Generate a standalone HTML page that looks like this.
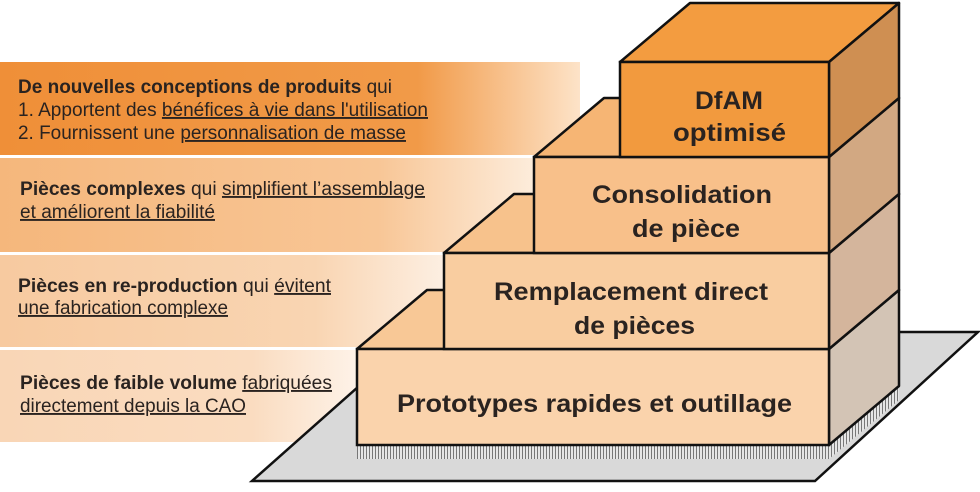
<!DOCTYPE html>
<html><head><meta charset="utf-8"><style>
body{margin:0;background:#fff;width:980px;height:487px;overflow:hidden;font-family:"Liberation Sans",Arial,sans-serif}
</style></head><body>
<svg width="980" height="487" viewBox="0 0 980 487" xmlns="http://www.w3.org/2000/svg" font-family="Liberation Sans, Arial, sans-serif">
<defs>
<linearGradient id="g1" x1="0" x2="1"><stop offset="0" stop-color="#ef8f38"/><stop offset="0.72" stop-color="#f19a48"/><stop offset="1" stop-color="#fde3c8"/></linearGradient>
<linearGradient id="g2" x1="0" x2="1"><stop offset="0" stop-color="#f5b77c"/><stop offset="0.7" stop-color="#f8c696"/><stop offset="1" stop-color="#fdeede"/></linearGradient>
<linearGradient id="g3" x1="0" x2="1"><stop offset="0" stop-color="#f7caa0"/><stop offset="0.7" stop-color="#f9d5b2"/><stop offset="1" stop-color="#fdf0e4"/></linearGradient>
<linearGradient id="g4" x1="0" x2="1"><stop offset="0" stop-color="#f9d6b6"/><stop offset="0.7" stop-color="#fadcc0"/><stop offset="1" stop-color="#fef3e9"/></linearGradient>
<pattern id="hatch" width="3" height="10" patternUnits="userSpaceOnUse"><rect width="3" height="10" fill="#e6e6e6"/><rect width="1" height="10" fill="#777"/></pattern>
</defs>
<rect x="0" y="62" width="580" height="93" fill="url(#g1)"/>
<rect x="0" y="158" width="540" height="94" fill="url(#g2)"/>
<rect x="0" y="255" width="450" height="92" fill="url(#g3)"/>
<rect x="0" y="350" width="360" height="92" fill="url(#g4)"/>
<polygon points="252,481 815,481 978,332 420,332" fill="#d9d9d9" stroke="#111" stroke-width="2.5"/>
<rect x="357" y="445" width="472" height="14" fill="url(#hatch)"/>
<polygon points="829,445 899,386 899,400 829,459" fill="url(#hatch)"/>
<polygon points="357,349 427,290 899,290 829,349" fill="#f8c896" stroke="#111" stroke-width="2.5" stroke-linejoin="round"/>
<polygon points="829,349 899,290 899,386 829,445" fill="#d3c4b5" stroke="#111" stroke-width="2.5" stroke-linejoin="round"/>
<rect x="357" y="349" width="472" height="96" fill="#fad3ac" stroke="#111" stroke-width="2.5"/>
<polygon points="444,253 514,194 899,194 829,253" fill="#f7c28c" stroke="#111" stroke-width="2.5" stroke-linejoin="round"/>
<polygon points="829,253 899,194 899,290 829,349" fill="#d4b59c" stroke="#111" stroke-width="2.5" stroke-linejoin="round"/>
<rect x="444" y="253" width="385" height="96" fill="#f9cda0" stroke="#111" stroke-width="2.5"/>
<polygon points="534,157 604,98 899,98 829,157" fill="#f6b574" stroke="#111" stroke-width="2.5" stroke-linejoin="round"/>
<polygon points="829,157 899,98 899,194 829,253" fill="#d2a882" stroke="#111" stroke-width="2.5" stroke-linejoin="round"/>
<rect x="534" y="157" width="295" height="96" fill="#f8c08a" stroke="#111" stroke-width="2.5"/>
<polygon points="620,62 690,3 899,3 829,62" fill="#f39c40" stroke="#111" stroke-width="2.5" stroke-linejoin="round"/>
<polygon points="829,62 899,3 899,98 829,157" fill="#cf8f52" stroke="#111" stroke-width="2.5" stroke-linejoin="round"/>
<rect x="620" y="62" width="209" height="95" fill="#f29a3e" stroke="#111" stroke-width="2.5"/>
<g fill="#2a2320" font-weight="bold" font-size="25" lengthAdjust="spacingAndGlyphs">
<text x="695" y="109" textLength="68" lengthAdjust="spacingAndGlyphs">DfAM</text>
<text x="673" y="141" textLength="113" lengthAdjust="spacingAndGlyphs">optimisé</text>
<text x="592" y="203" textLength="180" lengthAdjust="spacingAndGlyphs">Consolidation</text>
<text x="632" y="237" textLength="108" lengthAdjust="spacingAndGlyphs">de pièce</text>
<text x="494" y="300" textLength="274" lengthAdjust="spacingAndGlyphs">Remplacement direct</text>
<text x="574" y="334" textLength="121" lengthAdjust="spacingAndGlyphs">de pièces</text>
<text x="397" y="412" textLength="395" lengthAdjust="spacingAndGlyphs">Prototypes rapides et outillage</text>
</g>
<g fill="#2a2320" font-size="19">
<text x="18" y="93" textLength="374" lengthAdjust="spacingAndGlyphs"><tspan font-weight="bold">De nouvelles conceptions de produits</tspan> qui</text>
<text x="18" y="116" textLength="410" lengthAdjust="spacingAndGlyphs">1. Apportent des <tspan text-decoration="underline">bénéfices à vie dans l'utilisation</tspan></text>
<text x="18" y="139" textLength="388" lengthAdjust="spacingAndGlyphs">2. Fournissent une <tspan text-decoration="underline">personnalisation de masse</tspan></text>
<text x="20" y="195" textLength="405" lengthAdjust="spacingAndGlyphs"><tspan font-weight="bold">Pièces complexes</tspan> qui <tspan text-decoration="underline">simplifient l’assemblage </tspan></text>
<text x="20" y="218" textLength="195" lengthAdjust="spacingAndGlyphs" text-decoration="underline">et améliorent la fiabilité</text>
<text x="18" y="292" textLength="313" lengthAdjust="spacingAndGlyphs"><tspan font-weight="bold">Pièces en re-production</tspan> qui <tspan text-decoration="underline">évitent </tspan></text>
<text x="18" y="314" textLength="210" lengthAdjust="spacingAndGlyphs" text-decoration="underline">une fabrication complexe</text>
<text x="20" y="389" textLength="312" lengthAdjust="spacingAndGlyphs"><tspan font-weight="bold">Pièces de faible volume</tspan> <tspan text-decoration="underline">fabriquées </tspan></text>
<text x="20" y="412" textLength="226" lengthAdjust="spacingAndGlyphs" text-decoration="underline">directement depuis la CAO</text>
</g>
</svg>
</body></html>
